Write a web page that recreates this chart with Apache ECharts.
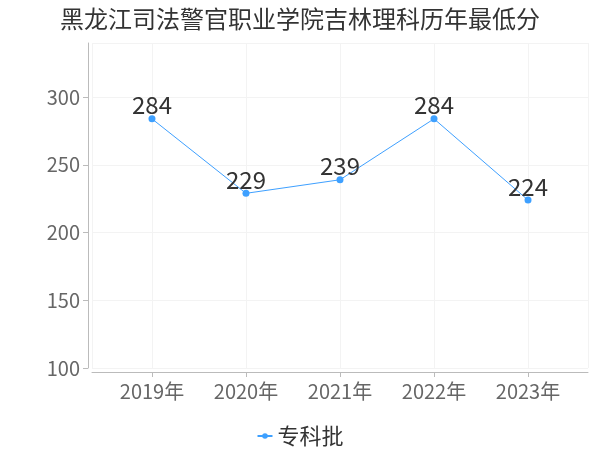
<!DOCTYPE html>
<html>
<head>
<meta charset="utf-8">
<script src="https://cdn.jsdelivr.net/npm/echarts@6/dist/echarts.min.js"></script>
<style>html,body{margin:0;padding:0;background:#fff}#main{width:600px;height:450px}</style>
</head>
<body>
<div id="main"></div>
<script>
const titleText = '黑龙江司法警官职业学院吉林理科历年最低分';
const years = ['2019年', '2020年', '2021年', '2022年', '2023年'];
const seriesName = '专科批';
const scores = [284, 229, 239, 284, 224];
const yTicks = {min: 100, max: 340, interval: 50};

const FONT = '"Noto Sans CJK SC", sans-serif';
const chart = echarts.init(document.getElementById('main'));
chart.setOption({
  backgroundColor: '#fff',
  title: {
    text: titleText, left: 'center', top: 2,
    textStyle: {fontSize: 24, fontWeight: 'normal', color: '#333', fontFamily: FONT}
  },
  grid: {left: 92, right: 12, top: 43, bottom: 82},
  xAxis: {
    type: 'value',
    min: -0.638, max: years.length - 1 + 0.638,
    minInterval: 1, maxInterval: 1,
    offset: 4,
    axisLine: {show: true, onZero: false, lineStyle: {color: '#bbb'}},
    axisTick: {show: true, length: 5, lineStyle: {color: '#bbb'}},
    axisLabel: {
      color: '#666', fontSize: 20, fontFamily: FONT, margin: 9,
      showMinLabel: false, showMaxLabel: false,
      formatter: v => (Number.isInteger(v) && years[v]) ? years[v] : ''
    },
    splitLine: {show: true, lineStyle: {color: '#f3f3f3'}}
  },
  yAxis: {
    type: 'value',
    min: yTicks.min, max: yTicks.max, interval: yTicks.interval,
    offset: 4,
    axisLine: {show: true, onZero: false, lineStyle: {color: '#bbb'}},
    axisTick: {show: true, length: 5, lineStyle: {color: '#bbb'}},
    axisLabel: {color: '#666', fontSize: 20, fontFamily: FONT, margin: 8, showMaxLabel: false},
    splitLine: {show: true, lineStyle: {color: '#f3f3f3'}}
  },
  legend: {
    top: 420, left: 'center',
    itemWidth: 15, itemHeight: 7,
    textStyle: {fontSize: 22, color: '#333', fontFamily: FONT},
    data: [seriesName]
  },
  series: [{
    name: seriesName,
    type: 'line',
    data: scores.map((v, i) => [i, v]),
    symbol: 'circle', symbolSize: 7,
    itemStyle: {color: '#3ea0ff'},
    lineStyle: {color: '#3ea0ff', width: 1},
    label: {show: true, position: 'top', distance: -2, fontSize: 24, color: '#333', fontFamily: FONT}
  }]
});
</script>
</body>
</html>
